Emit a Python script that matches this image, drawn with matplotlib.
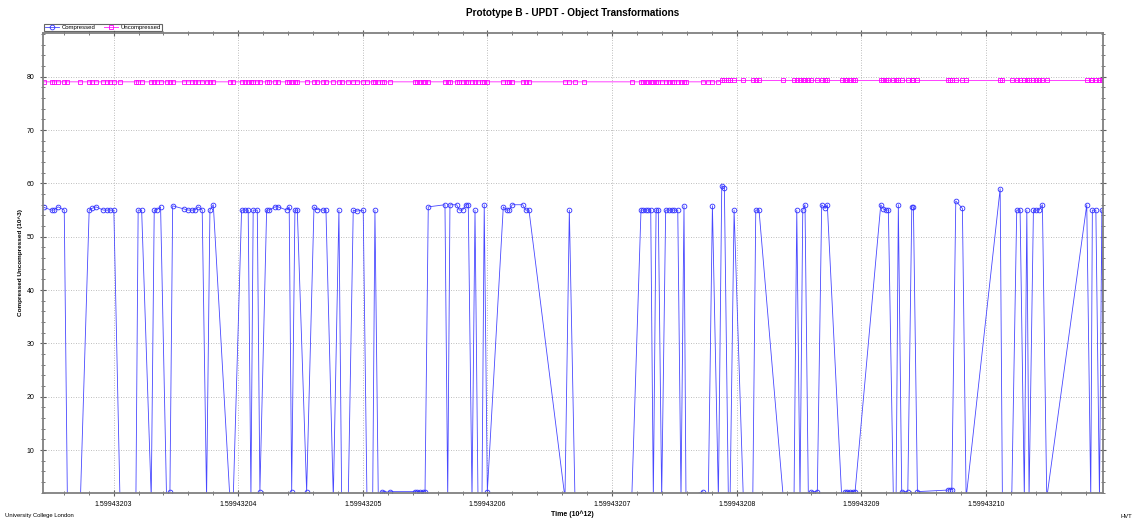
import matplotlib
matplotlib.use("Agg")
import matplotlib.pyplot as plt
from matplotlib.ticker import MultipleLocator, AutoMinorLocator

plt.rcParams['font.family'] = ['Liberation Sans', 'DejaVu Sans']

# time axis is in 10^12 ms; t is seconds after 1.59943202e12 ms
base = 1.59943202
time_s = [
    4.41, 5.02, 5.21, 5.55, 6.04, 6.29, 7.34, 8.04, 8.24, 8.58,
    9.17, 9.44, 9.70, 10.02, 10.51, 11.79, 11.97, 12.25, 13.02, 13.26,
    13.45, 13.77, 14.25, 14.52, 14.74, 15.64, 15.96, 16.28, 16.53, 16.79,
    17.11, 17.46, 17.73, 18.00, 19.33, 19.60, 20.27, 20.54, 20.80, 21.02,
    21.20, 21.53, 21.74, 22.28, 22.49, 22.95, 23.21, 23.89, 24.09, 24.29,
    24.55, 24.74, 25.49, 26.08, 26.29, 26.82, 27.04, 27.63, 28.08, 28.30,
    28.83, 29.23, 29.50, 30.03, 30.33, 30.79, 30.97, 31.24, 31.51, 31.69,
    32.18, 34.18, 34.37, 34.58, 34.80, 34.99, 35.25, 36.59, 36.81, 36.99,
    37.53, 37.74, 38.01, 38.25, 38.46, 38.76, 39.00, 39.24, 39.56, 39.74,
    39.99, 41.27, 41.54, 41.75, 41.99, 42.83, 43.07, 43.33, 46.22, 46.57,
    47.02, 47.75, 51.58, 52.32, 52.51, 52.72, 52.91, 53.10, 53.31, 53.53,
    53.71, 53.98, 54.30, 54.57, 54.79, 55.00, 55.27, 55.53, 55.77, 55.93,
    57.27, 57.72, 58.05, 58.53, 58.80, 59.01, 59.33, 59.47, 59.79, 60.53,
    61.29, 61.53, 61.79, 63.74, 64.60, 64.82, 65.08, 65.30, 65.48, 65.75,
    65.97, 66.47, 66.82, 67.09, 67.27, 68.43, 68.69, 68.88, 69.10, 69.31,
    69.50, 71.56, 71.77, 71.99, 72.17, 72.57, 72.79, 72.97, 73.24, 73.73,
    74.05, 74.18, 74.50, 76.99, 77.12, 77.26, 77.58, 78.11, 78.41, 81.14,
    81.32, 82.07, 82.47, 82.74, 83.08, 83.28, 83.46, 83.81, 84.02, 84.27,
    84.53, 84.88, 88.09, 88.41, 88.54, 88.82, 89.11, 89.30, 89.48,
]
compressed = [
    55.5, 55.0, 55.0, 55.6, 55.0, 1.0, 1.0, 55.0, 55.3, 55.6,
    55.0, 55.0, 55.0, 55.0, 1.0, 1.0, 55.0, 55.0, 1.0, 55.0,
    55.0, 55.6, 1.0, 2.2, 55.8, 55.2, 55.0, 55.0, 55.0, 55.6,
    55.0, 1.0, 55.0, 56.0, 1.0, 1.0, 55.0, 55.0, 55.0, 1.0,
    55.0, 55.0, 2.2, 55.0, 55.0, 55.6, 55.6, 55.0, 55.6, 2.2,
    55.0, 55.0, 2.2, 55.6, 55.1, 55.0, 55.0, 1.0, 55.0, 1.0,
    1.0, 55.0, 54.8, 55.0, 1.0, 1.0, 55.0, 1.0, 2.2, 2.0,
    2.2, 2.2, 2.2, 2.2, 2.2, 2.2, 55.6, 56.0, 1.0, 56.0,
    56.0, 55.0, 55.0, 56.0, 56.0, 1.0, 55.0, 1.0, 1.0, 56.0,
    2.2, 55.6, 55.0, 55.0, 56.0, 56.0, 55.0, 55.0, 1.0, 55.0,
    1.0, 1.0, 1.0, 55.0, 55.0, 55.0, 55.0, 55.0, 1.0, 55.0,
    55.0, 1.0, 55.0, 55.0, 55.0, 55.0, 55.0, 1.0, 55.8, 1.0,
    2.2, 1.0, 55.8, 1.0, 59.6, 59.2, 1.0, 1.0, 55.0, 1.0,
    1.0, 55.0, 55.0, 1.0, 1.0, 55.0, 1.0, 55.0, 56.0, 1.0,
    2.2, 2.2, 56.0, 55.3, 56.0, 1.0, 2.2, 2.2, 2.2, 2.2,
    2.2, 56.0, 55.2, 55.0, 55.0, 1.0, 1.0, 56.0, 2.2, 2.2,
    55.6, 55.6, 2.2, 2.5, 2.6, 2.6, 56.7, 55.3, 1.0, 59.0,
    1.0, 1.0, 55.0, 55.0, 1.0, 55.0, 1.0, 55.0, 55.0, 55.0,
    56.0, 1.0, 56.0, 1.0, 55.0, 55.0, 1.0, 55.0, 1.0,
]
uncompressed = [
    79.05, 79.05, 79.05, 79.05, 79.05, 79.05, 79.05, 79.05, 79.05, 79.05,
    79.05, 79.05, 79.05, 79.05, 79.05, 79.05, 79.05, 79.05, 79.05, 79.05,
    79.05, 79.05, 79.05, 79.05, 79.05, 79.05, 79.05, 79.05, 79.05, 79.05,
    79.05, 79.05, 79.05, 79.05, 79.05, 79.05, 79.05, 79.05, 79.05, 79.05,
    79.05, 79.05, 79.05, 79.05, 79.05, 79.05, 79.05, 79.05, 79.05, 79.05,
    79.05, 79.05, 79.05, 79.05, 79.05, 79.05, 79.05, 79.05, 79.05, 79.05,
    79.05, 79.05, 79.05, 79.05, 79.05, 79.05, 79.05, 79.05, 79.05, 79.05,
    79.05, 79.05, 79.05, 79.05, 79.05, 79.05, 79.05, 79.05, 79.05, 79.05,
    79.05, 79.05, 79.05, 79.05, 79.05, 79.05, 79.05, 79.05, 79.05, 79.05,
    79.05, 79.05, 79.05, 79.05, 79.05, 79.05, 79.05, 79.05, 79.05, 79.05,
    79.05, 79.05, 79.05, 79.05, 79.05, 79.05, 79.05, 79.05, 79.05, 79.05,
    79.05, 79.05, 79.05, 79.05, 79.05, 79.05, 79.05, 79.05, 79.05, 79.05,
    79.05, 79.05, 79.05, 79.05, 79.3, 79.3, 79.3, 79.3, 79.3, 79.3,
    79.3, 79.3, 79.3, 79.3, 79.3, 79.3, 79.3, 79.3, 79.3, 79.3,
    79.3, 79.3, 79.3, 79.3, 79.3, 79.3, 79.3, 79.3, 79.3, 79.3,
    79.3, 79.3, 79.3, 79.3, 79.3, 79.3, 79.3, 79.3, 79.3, 79.3,
    79.3, 79.3, 79.3, 79.3, 79.3, 79.3, 79.3, 79.3, 79.3, 79.3,
    79.3, 79.3, 79.3, 79.3, 79.3, 79.3, 79.3, 79.3, 79.3, 79.3,
    79.3, 79.3, 79.3, 79.3, 79.3, 79.3, 79.3, 79.3, 79.3,
]
x_ticks = [1.59943203, 1.59943204, 1.59943205, 1.59943206,
           1.59943207, 1.59943208, 1.59943209, 1.59943210]
x_labels = ['1.59943203', '1.59943204', '1.59943205', '1.59943206',
            '1.59943207', '1.59943208', '1.59943209', '1.59943210']
y_ticks = [10, 20, 30, 40, 50, 60, 70, 80]

x = [base + t * 1e-9 for t in time_s]

fig = plt.figure(figsize=(11.36, 5.2), dpi=100)
ax = fig.add_axes([0.0378, 0.0525, 0.9329, 0.884])

ax.plot(x, compressed, color='#4848ff', lw=0.6, marker='o', ms=3.4,
        mfc='none', mec='#3030ff', mew=0.6, label='Compressed')
ax.plot(x, uncompressed, color='#ff40ff', lw=0.7, marker='s', ms=2.8,
        mfc='none', mec='#ff00ff', mew=0.6, label='Uncompressed')

ax.set_xlim(base + 4.33e-9, base + 89.37e-9)
ax.set_ylim(2.0, 88.2)
ax.set_xticks(x_ticks, x_labels)
ax.xaxis.set_minor_locator(AutoMinorLocator(5))
ax.set_yticks(y_ticks)
ax.yaxis.set_minor_locator(MultipleLocator(2))

ax.grid(True, which='major', color='#a8a8a8', linestyle=(0, (1, 2)), lw=0.6)
for s in ax.spines.values():
    s.set_color('#808080')
    s.set_linewidth(1.3)

ax.tick_params(which='both', top=True, right=True, colors='#606060',
               labelcolor='black', labelsize=5)
ax.tick_params(which='major', direction='inout', length=5, width=0.8)
ax.tick_params(which='minor', direction='inout', length=2.5, width=0.6)

ax.set_xlabel('Time (10^12)', fontsize=5, fontweight='bold', labelpad=2)
ax.set_ylabel('Compressed Uncompressed (10^3)', fontsize=4.6, fontweight='bold', labelpad=3)

fig.text(573 / 1136, 1 - 13 / 520, 'Prototype B - UPDT - Object Transformations',
         ha='center', va='center', fontsize=7.2, fontweight='bold')
fig.text(5 / 1136, 1 - 516 / 520, 'University College London', fontsize=4.2,
         ha='left', va='center')
fig.text(1132 / 1136, 1 - 516 / 520, 'HVT', fontsize=4.2, ha='right', va='center')

leg = ax.legend(loc='lower left', bbox_to_anchor=(-0.001, 1.0), ncol=2, fontsize=4.3,
                frameon=True, fancybox=False, edgecolor='#404040', borderpad=0.15,
                handlelength=2.4, columnspacing=1.3, handletextpad=0.5,
                borderaxespad=0.3)
leg.get_frame().set_linewidth(0.8)

fig.savefig('out.png', dpi=100)
